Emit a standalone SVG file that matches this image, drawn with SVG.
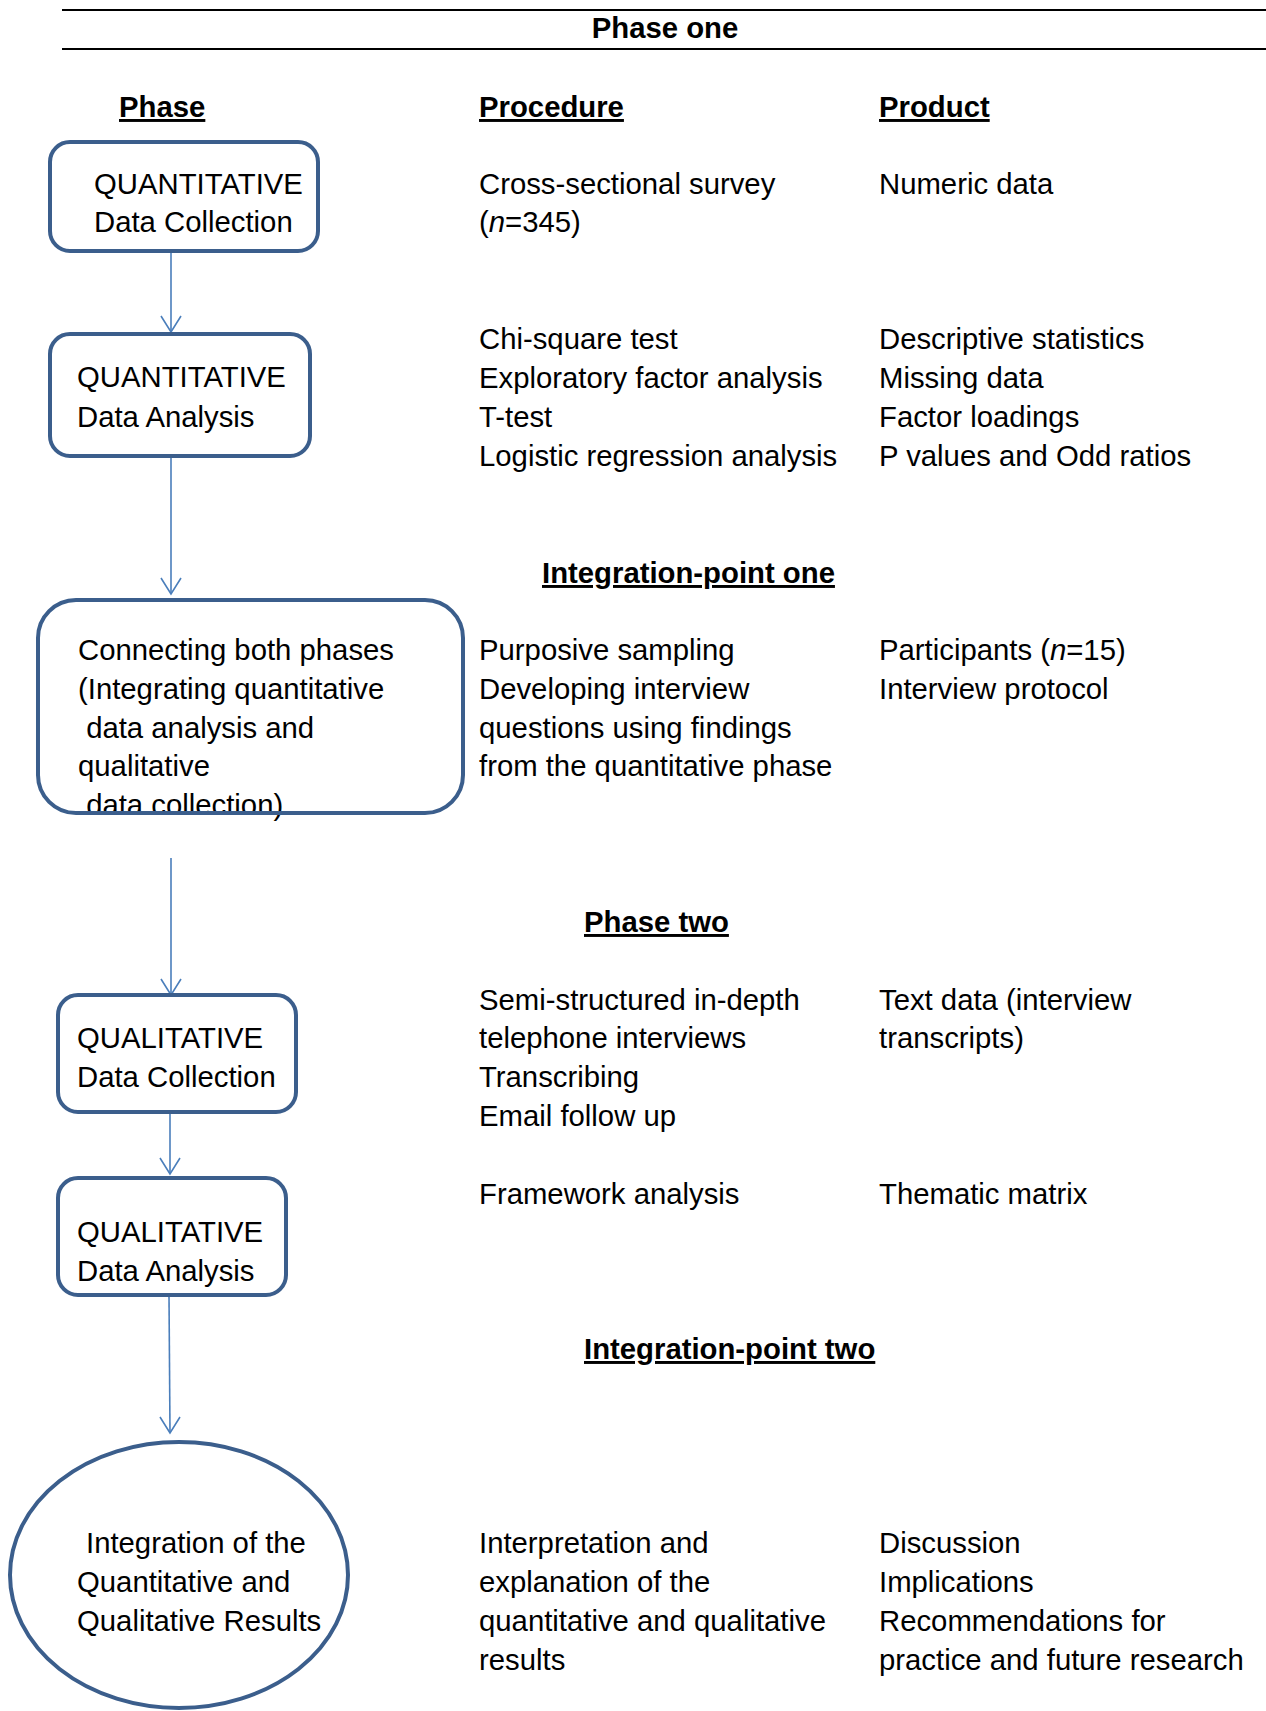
<svg xmlns="http://www.w3.org/2000/svg" width="1266" height="1711" viewBox="0 0 1266 1711">
<style>
text{font-family:"Liberation Sans",Arial,sans-serif;font-size:29.3px;fill:#000}
.h{font-weight:bold;text-decoration:underline}
.t{font-weight:bold}
.box{fill:#fff;stroke:#3b5e8c;stroke-width:4}
.edge{stroke:#4a7ebb;stroke-width:1.6;fill:none}
</style>
<g id="header">
<line x1="62" y1="10" x2="1266" y2="10" stroke="#000" stroke-width="2"/>
<line x1="62" y1="49" x2="1266" y2="49" stroke="#000" stroke-width="2"/>
<text class="t" x="665" y="38" text-anchor="middle">Phase one</text>
<text class="h" x="119" y="117">Phase</text>
<text class="h" x="479" y="117">Procedure</text>
<text class="h" x="879" y="117">Product</text>
<text class="h" x="542" y="583">Integration-point one</text>
<text class="h" x="584" y="932">Phase two</text>
<text class="h" x="584" y="1359">Integration-point two</text>
</g>
<g id="connectors">
<line class="edge" x1="171" y1="251" x2="171" y2="332"/>
<line class="edge" x1="171" y1="456" x2="171" y2="594"/>
<line class="edge" x1="171" y1="858" x2="171" y2="995"/>
<line class="edge" x1="170" y1="1112" x2="170" y2="1174"/>
<line class="edge" x1="169" y1="1296" x2="170" y2="1433"/>
<path class="edge" d="M161,316 L171,332 L181,316 M161,578 L171,594 L181,578 M161,979 L171,995 L181,979 M160,1158 L170,1174 L180,1158 M160,1417 L170,1433 L180,1417"/>
</g>
<g id="n1">
<rect class="box" x="50" y="142" width="268" height="109" rx="20"/>
<text x="94" y="194">QUANTITATIVE</text>
<text x="94" y="232">Data Collection</text>
</g>
<g id="n1-info">
<text x="479" y="194">Cross-sectional survey</text>
<text x="479" y="232">(<tspan font-style="italic">n</tspan>=345)</text>
<text x="879" y="194">Numeric data</text>
</g>
<g id="n2">
<rect class="box" x="50" y="334" width="260" height="122" rx="20"/>
<text x="77" y="387">QUANTITATIVE</text>
<text x="77" y="427">Data Analysis</text>
</g>
<g id="n2-info">
<text x="479" y="349">Chi-square test</text>
<text x="479" y="388">Exploratory factor analysis</text>
<text x="479" y="427">T-test</text>
<text x="479" y="466">Logistic regression analysis</text>
<text x="879" y="349">Descriptive statistics</text>
<text x="879" y="388">Missing data</text>
<text x="879" y="427">Factor loadings</text>
<text x="879" y="466">P values and Odd ratios</text>
</g>
<g id="n3">
<rect x="38" y="600" width="425" height="213" rx="38" fill="#fff"/>
<text x="78" y="660">Connecting both phases</text>
<text x="78" y="699">(Integrating quantitative</text>
<text x="78" y="738" xml:space="preserve"> data analysis and</text>
<text x="78" y="776">qualitative</text>
<text x="78" y="815" xml:space="preserve"> data collection)</text>
<rect x="38" y="600" width="425" height="213" rx="38" fill="none" stroke="#3b5e8c" stroke-width="4"/>
</g>
<g id="n3-info">
<text x="479" y="660">Purposive sampling</text>
<text x="479" y="699">Developing interview</text>
<text x="479" y="738">questions using findings</text>
<text x="479" y="776">from the quantitative phase</text>
<text x="879" y="660">Participants (<tspan font-style="italic">n</tspan>=15)</text>
<text x="879" y="699">Interview protocol</text>
</g>
<g id="n4">
<rect class="box" x="58" y="995" width="238" height="117" rx="20"/>
<text x="77" y="1048">QUALITATIVE</text>
<text x="77" y="1087">Data Collection</text>
</g>
<g id="n4-info">
<text x="479" y="1010">Semi-structured in-depth</text>
<text x="479" y="1048">telephone interviews</text>
<text x="479" y="1087">Transcribing</text>
<text x="479" y="1126">Email follow up</text>
<text x="879" y="1010">Text data (interview</text>
<text x="879" y="1048">transcripts)</text>
</g>
<g id="n5">
<rect class="box" x="58" y="1178" width="228" height="117" rx="20"/>
<text x="77" y="1242">QUALITATIVE</text>
<text x="77" y="1281">Data Analysis</text>
</g>
<g id="n5-info">
<text x="479" y="1204">Framework analysis</text>
<text x="879" y="1204">Thematic matrix</text>
</g>
<g id="n6">
<ellipse class="box" cx="179" cy="1575" rx="169" ry="133"/>
<text x="86" y="1553">Integration of the</text>
<text x="77" y="1592">Quantitative and</text>
<text x="77" y="1631">Qualitative Results</text>
</g>
<g id="n6-info">
<text x="479" y="1553">Interpretation and</text>
<text x="479" y="1592">explanation of the</text>
<text x="479" y="1631">quantitative and qualitative</text>
<text x="479" y="1670">results</text>
<text x="879" y="1553">Discussion</text>
<text x="879" y="1592">Implications</text>
<text x="879" y="1631">Recommendations for</text>
<text x="879" y="1670">practice and future research</text>
</g>
</svg>
